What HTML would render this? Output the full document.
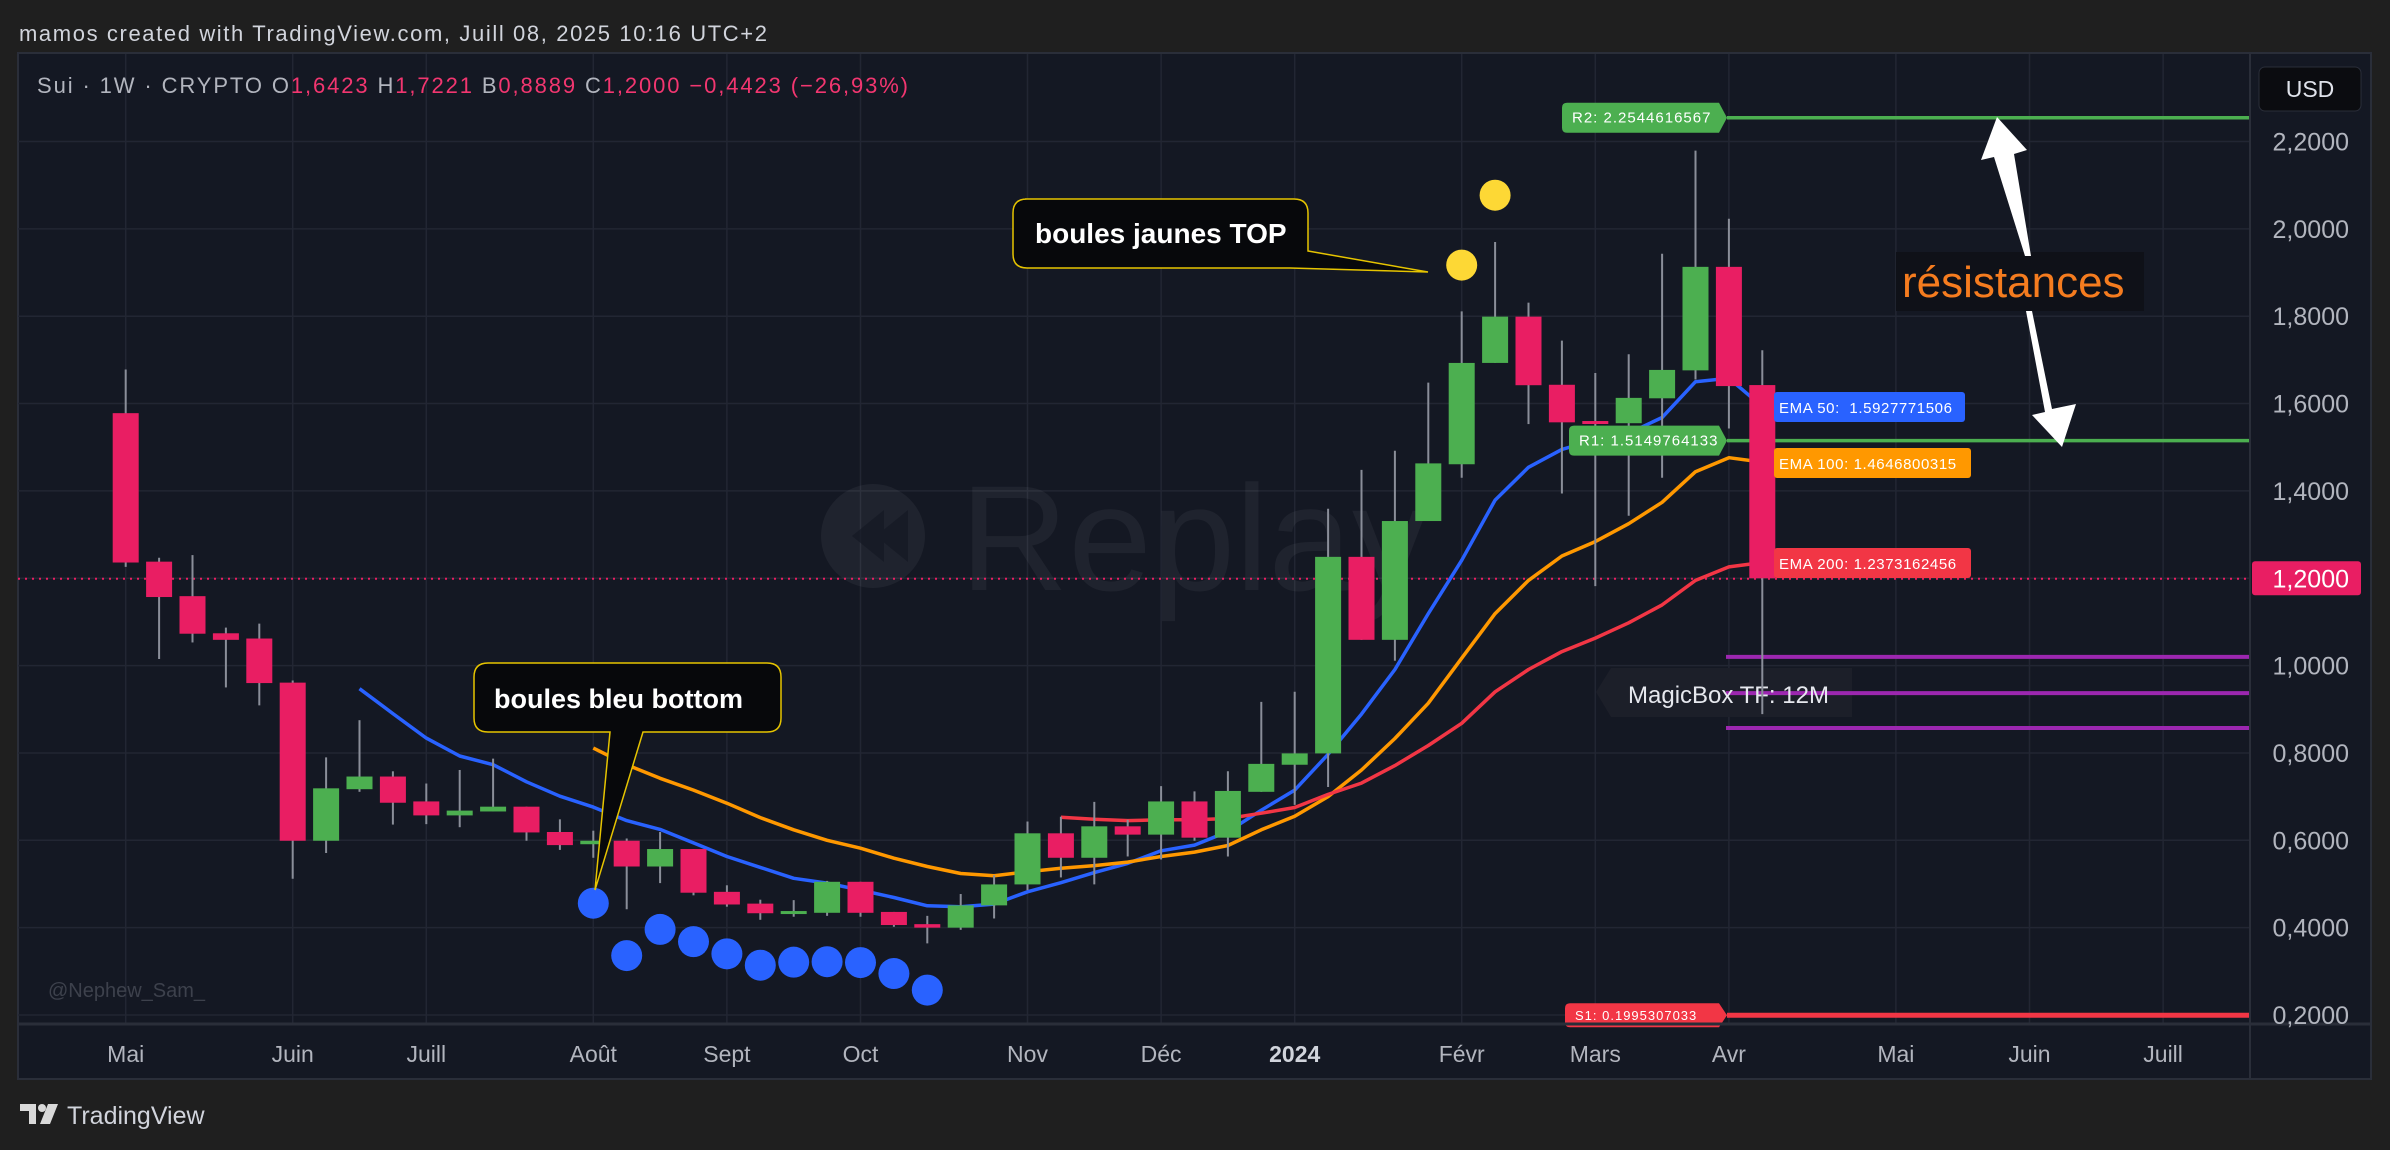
<!DOCTYPE html>
<html><head><meta charset="utf-8">
<style>
html,body{margin:0;padding:0;background:#1f1f1f;}
svg{display:block;}
text{font-family:"Liberation Sans",sans-serif;}
</style></head>
<body>
<svg id="chart" xmlns="http://www.w3.org/2000/svg" width="2390" height="1150" viewBox="0 0 2390 1150">
<rect x="0" y="0" width="2390" height="1150" fill="#1f1f1f"/>
<text x="19" y="41" font-size="22" fill="#d1d4dc" textLength="748">mamos created with TradingView.com, Juill 08, 2025 10:16 UTC+2</text>
<rect x="18" y="53" width="2353" height="1026" fill="#141823" stroke="#2a2e39" stroke-width="2"/>
<g id="grid"></g>
<g id="watermark">
<circle cx="873" cy="536" r="52" fill="#ffffff" fill-opacity="0.05"/>
<path d="M884 510 L852 536 L884 562 Z M908 510 L876 536 L908 562 Z" fill="#141823" fill-opacity="0.7"/>
<text x="960" y="590" font-size="150" fill="#ffffff" fill-opacity="0.05">Replay</text>
</g>
<line x1="18" y1="578.8" x2="2250" y2="578.8" stroke="#e91e63" stroke-width="2" stroke-dasharray="2,5"/>
<g id="levels"></g>
<g id="emas"></g>
<g id="candles"></g>
<g id="dots"></g>
<g id="labels"></g>
<g>
<path d="M1025 199 H1294 Q1308 199 1308 213 V251 L1428 272 L1290 268 H1027 Q1013 268 1013 254 V213 Q1013 199 1027 199 Z" fill="#07080b" stroke="#e6c400" stroke-width="1.5"/>
<text x="1035" y="243" font-size="28" font-weight="bold" fill="#ffffff">boules jaunes TOP</text>
</g>
<g>
<path d="M488 663 H767 Q781 663 781 677 V718 Q781 732 767 732 H643 L595 890 L610 732 H488 Q474 732 474 718 V677 Q474 663 488 663 Z" fill="#07080b" stroke="#e6c400" stroke-width="1.5"/>
<text x="494" y="708" font-size="27" font-weight="bold" fill="#ffffff">boules bleu bottom</text>
</g>
<g>
<rect x="1896" y="252" width="248" height="59" fill="#0f1118"/>
<text x="1902" y="297" font-size="44" fill="#f57c1f">résistances</text>
<path d="M2025 256 L2031 256 L2014 154 L2027 150 L1997 117 L1981 160 L1994 157 Z" fill="#ffffff"/>
<path d="M2026 311 L2032 311 L2052 409 L2076 404 L2062 447 L2032 415 L2045 412 Z" fill="#ffffff"/>
</g>
<text x="48" y="997" font-size="20" fill="#3d414c">@Nephew_Sam_</text>
<g id="axes"></g>
<text x="37" y="93" font-size="22" fill="#b2b5be" textLength="871">Sui · 1W · CRYPTO  O<tspan fill="#f23670">1,6423</tspan>  H<tspan fill="#f23670">1,7221</tspan>  B<tspan fill="#f23670">0,8889</tspan>  C<tspan fill="#f23670">1,2000</tspan>  <tspan fill="#f23670">−0,4423 (−26,93%)</tspan></text>
<g>
<path d="M20 1104 H36 V1124 H29 V1111 H20 Z" fill="#d9d9d9"/>
<circle cx="42" cy="1108" r="4" fill="#d9d9d9"/>
<path d="M48 1104 H58 L50 1124 H40 Z" fill="#d9d9d9"/>
<text x="67" y="1124" font-size="25" fill="#d1d4dc">TradingView</text>
</g>
</svg>
<script>
// ---- data ----
const opens  = [1.578,1.238,1.159,1.074,1.062,0.961,0.599,0.717,0.746,0.689,0.657,0.666,0.677,0.619,0.591,0.599,0.540,0.580,0.482,0.455,0.435,0.434,0.505,0.436,0.408,0.400,0.451,0.499,0.616,0.560,0.632,0.613,0.689,0.606,0.711,0.773,0.799,1.249,1.059,1.331,1.461,1.693,1.799,1.643,1.560,1.555,1.612,1.676,1.913,1.6423];
const highs  = [1.678,1.247,1.253,1.087,1.096,0.966,0.790,0.875,0.758,0.730,0.761,0.787,0.677,0.648,0.622,0.604,0.619,0.580,0.497,0.464,0.463,0.507,0.505,0.436,0.427,0.477,0.520,0.643,0.654,0.688,0.647,0.724,0.712,0.758,0.917,0.940,1.359,1.448,1.492,1.648,1.811,1.970,1.831,1.744,1.670,1.713,1.943,2.179,2.023,1.7221];
const lows   = [1.226,1.015,1.053,0.950,0.909,0.512,0.571,0.711,0.636,0.637,0.630,0.666,0.599,0.578,0.560,0.442,0.502,0.474,0.448,0.418,0.425,0.427,0.425,0.402,0.364,0.395,0.421,0.486,0.515,0.499,0.563,0.556,0.599,0.563,0.711,0.681,0.722,1.059,1.011,1.331,1.430,1.693,1.553,1.394,1.182,1.343,1.430,1.655,1.543,0.8889];
const closes = [1.236,1.157,1.073,1.059,0.960,0.599,0.719,0.746,0.686,0.657,0.668,0.677,0.618,0.589,0.599,0.540,0.580,0.480,0.453,0.433,0.438,0.505,0.434,0.406,0.400,0.451,0.499,0.616,0.560,0.632,0.613,0.689,0.606,0.713,0.775,0.799,1.249,1.059,1.331,1.463,1.693,1.799,1.642,1.557,1.558,1.613,1.677,1.913,1.640,1.2000];
const ema50Start = 7;
const ema50 = [0.947,0.89,0.834,0.793,0.773,0.734,0.701,0.676,0.645,0.625,0.594,0.563,0.538,0.513,0.502,0.486,0.469,0.45,0.448,0.454,0.482,0.503,0.526,0.547,0.576,0.589,0.62,0.669,0.715,0.797,0.889,0.991,1.119,1.241,1.379,1.454,1.495,1.517,1.532,1.568,1.65,1.658,1.593];
const ema100Start = 14;
const ema100 = [0.811,0.773,0.742,0.715,0.685,0.652,0.624,0.600,0.582,0.559,0.540,0.524,0.519,0.528,0.536,0.542,0.550,0.563,0.573,0.588,0.624,0.655,0.700,0.761,0.833,0.914,1.017,1.119,1.195,1.251,1.284,1.325,1.374,1.444,1.476,1.466];
const ema200Start = 28;
const ema200 = [0.653,0.648,0.645,0.647,0.647,0.650,0.662,0.675,0.705,0.731,0.771,0.817,0.868,0.940,0.991,1.032,1.063,1.098,1.139,1.195,1.226,1.236];
const blueDotStart = 14;
const blueDots = [0.456,0.336,0.396,0.368,0.340,0.314,0.321,0.322,0.320,0.295,0.257];
const yellowDotIdx = [40,41];
const yellowDots = [1.917,2.077];
const priceTicks = [0.2,0.4,0.6,0.8,1.0,1.2,1.4,1.6,1.8,2.0,2.2];
const monthLabels = ["Mai","Juin","Juill","Août","Sept","Oct","Nov","Déc","2024","Févr","Mars","Avr","Mai","Juin","Juill"];
const monthIdx = [0,5,9,14,18,22,27,31,35,40,44,48,53,57,61];
const levelNames = ["R2","R1","S1"];
const levelValues = [2.2544616567,1.5149764133,0.1995307033];
const boxLevels = [1.02,0.937,0.857];
const emaLabelValues = [1.5927771506,1.4646800315,1.2373162456];
const lastPrice = 1.2;

// ---- axes ----
const X0 = 125.7, DX = 33.4, Y0 = 1015, KY = 436.75;
function xAt(i){ return X0 + DX*i; }
function yAt(p){ return Y0 - (p-0.2)*KY; }
const NS = "http://www.w3.org/2000/svg";
function mk(tag, attrs, parent){
  const e = document.createElementNS(NS, tag);
  for (const k in attrs) e.setAttribute(k, attrs[k]);
  parent.appendChild(e);
  return e;
}
const grid = document.getElementById('grid');
const axes = document.getElementById('axes');
priceTicks.forEach(p=>{
  const l = mk('line',{x1:18,x2:2250,y1:yAt(p),y2:yAt(p),stroke:'#222633','stroke-width':1.5},grid);
  
  
});
monthIdx.forEach(i=>{
  const l = mk('line',{x1:xAt(i),x2:xAt(i),y1:54,y2:1024,stroke:'#222633','stroke-width':1.5},grid);
  
  
});
// axis separators
const sepY = mk('line',{x1:2250,x2:2250,y1:54,y2:1078,stroke:'#2a2e39','stroke-width':2},axes);


const sepX = mk('line',{x1:18,x2:2371,y1:1024,y2:1024,stroke:'#2a2e39','stroke-width':3},axes);


priceTicks.forEach(p=>{
  const t = mk('text',{x:2349,y:yAt(p)+9,'font-size':25,fill:'#b2b5be','text-anchor':'end'},axes);
  t.textContent = p.toFixed(4).replace('.',',');
  
  
});
monthLabels.forEach((m,k)=>{
  const t = mk('text',{x:xAt(monthIdx[k]),y:1062,'font-size':23,fill:m==='2024'?'#d1d4dc':'#b2b5be','font-weight':m==='2024'?'bold':'normal','text-anchor':'middle'},axes);
  t.textContent = m;
  
  
});
const usd = mk('rect',{x:2259,y:67,width:102,height:44,rx:6,fill:'#0b0c10',stroke:'#2a2e39'},axes);


const usdT = mk('text',{x:2310,y:97,'font-size':23,fill:'#e0e3eb','text-anchor':'middle'},axes);
usdT.textContent = 'USD';


const pb = mk('rect',{x:2252,y:yAt(lastPrice)-17,width:109,height:34,rx:3,fill:'#e91e63'},axes);


const pbT = mk('text',{x:2349,y:yAt(lastPrice)+9,'font-size':25,fill:'#ffffff','text-anchor':'end'},axes);
pbT.textContent = lastPrice.toFixed(4).replace('.',',');



// ---- levels ----
const lv = document.getElementById('levels');
const lab = document.getElementById('labels');
const levelColors = ['#4caf50','#4caf50','#f23645'];
levelValues.forEach((v,k)=>{
  const l = mk('line',{x1:1727,x2:2250,y1:yAt(v),y2:yAt(v),stroke:levelColors[k],'stroke-width':k===2?5:3.5},lv);
  
  
});
// magicbox label (under purple lines)
const mb = mk('path',{d:'M1611 668 H1852 V717 H1611 L1596 692 L1611 668 Z',fill:'#1c1f29'},lv);


boxLevels.forEach(v=>{
  const l = mk('line',{x1:1726,x2:2250,y1:yAt(v),y2:yAt(v),stroke:'#9c27b0','stroke-width':4},lv);
  
  
});
const mbT = mk('text',{x:1628,y:703,'font-size':24,fill:'#e6e8ee'},lv);
mbT.textContent = 'MagicBox TF: 12M';



const lblBoxes = [[1562,1727],[1569,1727],[1565,1727]];
levelValues.forEach((v,k)=>{
  const y = yAt(v), x0 = lblBoxes[k][0], x1 = lblBoxes[k][1];
  const h = k===2?12:15;
  const p = mk('path',{d:`M${x0+5} ${y-h} H${x1-8} L${x1} ${y} L${x1-8} ${y+h} H${x0+5} Q${x0} ${y+h} ${x0} ${y+h-5} V${y-h+5} Q${x0} ${y-h} ${x0+5} ${y-h} Z`,fill:levelColors[k]},lab);
  
  
  const t = mk('text',{x:x0+10,y:y+5,'font-size':k===2?13:15,fill:'#ffffff','letter-spacing':1},lab);
  t.textContent = levelNames[k]+': '+v.toFixed(10);
  
  
});

// ---- EMA lines ----
const em = document.getElementById('emas');
function poly(arr,start,color,name){
  const pts = arr.map((v,j)=>xAt(start+j).toFixed(1)+','+yAt(v).toFixed(1)).join(' ');
  const pl = mk('polyline',{points:pts,fill:'none',stroke:color,'stroke-width':3.5,'stroke-linejoin':'round'},em);
  
  
}
poly(ema50,ema50Start,'#2962ff','ema-50-line');
poly(ema100,ema100Start,'#ff9800','ema-100-line');
poly(ema200,ema200Start,'#f23645','ema-200-line');

// ---- candles ----
const cg = document.getElementById('candles');
opens.forEach((o,i)=>{
  const c = closes[i], up = c >= o;
  const col = up ? '#4caf50' : '#e91e63';
  const x = xAt(i);
  const w = mk('line',{x1:x,x2:x,y1:yAt(highs[i]),y2:yAt(lows[i]),stroke:'#8a8e99','stroke-width':2},cg);
  
  
  const top = yAt(Math.max(o,c)), bot = yAt(Math.min(o,c));
  const b = mk('rect',{x:x-13,y:top,width:26,height:Math.max(3,bot-top),fill:col},cg);
  
  
});

// ---- dots ----
const dg = document.getElementById('dots');
blueDots.forEach((v,j)=>{
  const d = mk('circle',{cx:xAt(blueDotStart+j),cy:yAt(v),r:15.5,fill:'#2962ff'},dg);
  
  
});
yellowDots.forEach((v,j)=>{
  const d = mk('circle',{cx:xAt(yellowDotIdx[j]),cy:yAt(v),r:15.5,fill:'#fdd835'},dg);
  
  
});

// ---- EMA labels ----
const emaNames = ['EMA 50:  ','EMA 100: ','EMA 200: '];
const emaColors = ['#2962ff','#ff9800','#f23645'];
const emaBoxY = [392,448,548];
const emaW = [191,197,197];
emaLabelValues.forEach((v,k)=>{
  const r = mk('rect',{x:1774,y:emaBoxY[k],width:emaW[k],height:30,rx:3,fill:emaColors[k]},lab);
  
  
  const t = mk('text',{x:1779,y:emaBoxY[k]+21,'font-size':15,fill:'#ffffff','xml:space':'preserve','letter-spacing':0.6},lab);
  t.setAttribute('style','white-space:pre');
  t.textContent = emaNames[k]+v.toFixed(10);
  
  
});
</script>
</body></html>
